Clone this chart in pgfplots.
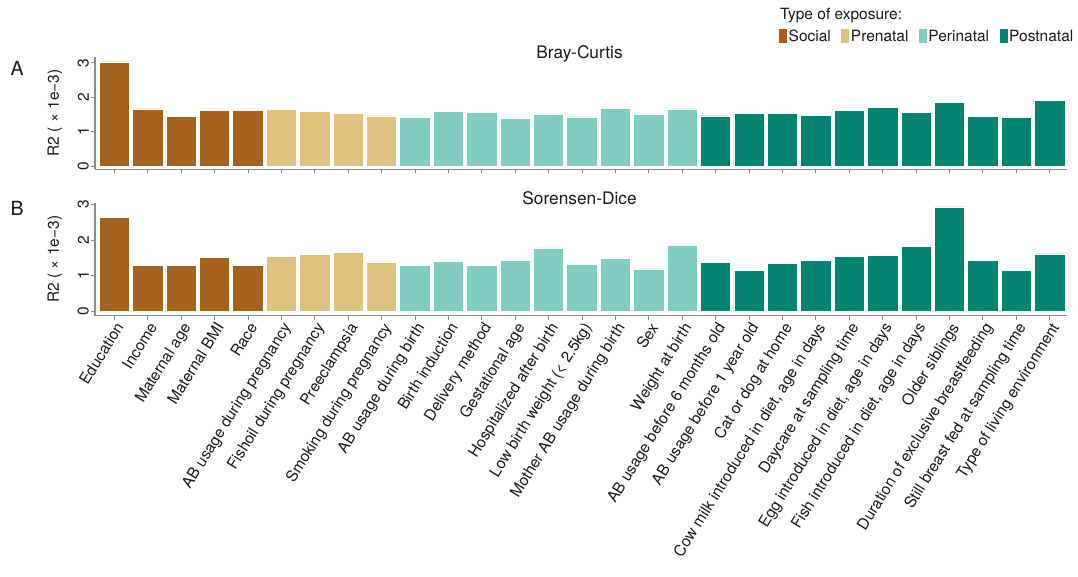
\documentclass[border=0pt]{standalone}
\usepackage{fontspec}
\setmainfont{TeX Gyre Heros}
\usepackage{pgfplots}
\pgfplotsset{compat=1.18}
\definecolor{social}{HTML}{A6611A}
\definecolor{prenatal}{HTML}{DFC27D}
\definecolor{perinatal}{HTML}{80CDC1}
\definecolor{postnatal}{HTML}{018571}
\definecolor{axgray}{HTML}{8C8C8C}
\definecolor{txt}{HTML}{1A1A1A}
\newcommand\lab{\fontsize{15.5}{18}\selectfont}
\newcommand\ttl{\fontsize{17.3}{20}\selectfont}
\pgfplotsset{
  panel/.style={
    scale only axis, width=972pt,
    xmin=-0.578, xmax=28.52,
    axis x line*=bottom, axis y line*=left,
    axis line style={axgray, line width=1.1pt},
    tick style={axgray, line width=0.8pt},
    tick align=outside, major tick length=4pt,
    xtick={0,...,28},
    ytick={0,1,2,3}, yticklabels={0,1,2,3},
    yticklabel style={rotate=90, anchor=south, inner sep=2pt, font=\lab, text=txt},
    ylabel={R2 ( × 1e−3)},
    ylabel style={at={(axis description cs:-0.0412,0.5)}, anchor=center, font=\lab, text=txt},
    clip=false,
  },
  bars/.style={ybar, bar width=30.4pt, bar shift=0pt, fill=#1, draw=white, line width=0.6pt},
}
\begin{document}
\begin{tikzpicture}[x=1pt,y=1pt]
\path[use as bounding box] (0,0) rectangle (1078,576);
% ---------- Top panel: Bray-Curtis ----------
\begin{axis}[panel, height=112.6pt, at={(95pt,406.7pt)}, anchor=south west,
  ymin=-0.096, ymax=3.18, xticklabels={},
  legend columns=4,
  legend style={draw=none, fill=none, font=\lab, text=txt,
    at={(0.7037,1.181)}, anchor=west, inner sep=0pt,
    nodes={inner sep=1.5pt},
    /tikz/every even column/.append style={column sep=9pt}},
  legend image code/.code={\fill[#1, draw=none] (0pt,-7pt) rectangle (8pt,7pt);},
]
\addplot[bars=social] coordinates {(0,3.03) (1,1.66) (2,1.44) (3,1.62) (4,1.62)};
\addplot[bars=prenatal] coordinates {(5,1.65) (6,1.58) (7,1.54) (8,1.46)};
\addplot[bars=perinatal] coordinates {(9,1.42) (10,1.58) (11,1.55) (12,1.40) (13,1.49) (14,1.43) (15,1.68) (16,1.51) (17,1.66)};
\addplot[bars=postnatal] coordinates {(18,1.46) (19,1.52) (20,1.52) (21,1.47) (22,1.61) (23,1.71) (24,1.56) (25,1.84) (26,1.44) (27,1.42) (28,1.92)};
\legend{Social, Prenatal, Perinatal, Postnatal}
\node[anchor=base, inner sep=0pt, font=\ttl, text=txt] at (axis description cs:0.4985,0.986) {Bray-Curtis};
\node[anchor=base west, inner sep=0pt, font=\lab, text=txt] at (axis description cs:0.7047,1.326) {Type of exposure:};
\node[anchor=center, inner sep=0pt, font=\fontsize{19.5}{22}\selectfont, text=txt] at (axis description cs:-0.080,0.90) {A};
\end{axis}
% ---------- Bottom panel: Sorensen-Dice ----------
\begin{axis}[panel, height=113pt, at={(95pt,260.3pt)}, anchor=south west,
  ymin=-0.124, ymax=3.05,
  xticklabels={Education, Income, Maternal age, Maternal BMI, Race,
    AB usage during pregnancy, Fishoil during pregnancy, Preeclampsia, Smoking during pregnancy,
    AB usage during birth, Birth induction, Delivery method, Gestational age, Hospitalized after birth,
    Low birth weight (< 2.5kg), Mother AB usage during birth, Sex, Weight at birth,
    AB usage before 6 months old, AB usage before 1 year old, Cat or dog at home,
    {Cow milk introduced in diet, age in days}, Daycare at sampling time,
    {Egg introduced in diet, age in days}, {Fish introduced in diet, age in days},
    Older siblings, Duration of exclusive breastfeeding, Still breast fed at sampling time,
    Type of living environment},
  xticklabel style={rotate=58, anchor=north east, inner sep=1pt, font=\lab, text=txt},
]
\addplot[bars=social] coordinates {(0,2.63) (1,1.29) (2,1.29) (3,1.51) (4,1.29)};
\addplot[bars=prenatal] coordinates {(5,1.54) (6,1.59) (7,1.66) (8,1.38)};
\addplot[bars=perinatal] coordinates {(9,1.28) (10,1.40) (11,1.28) (12,1.44) (13,1.78) (14,1.32) (15,1.48) (16,1.19) (17,1.86)};
\addplot[bars=postnatal] coordinates {(18,1.38) (19,1.15) (20,1.35) (21,1.44) (22,1.55) (23,1.57) (24,1.83) (25,2.93) (26,1.44) (27,1.14) (28,1.61)};
\node[anchor=base, inner sep=0pt, font=\ttl, text=txt] at (axis description cs:0.4985,0.98) {Sorensen-Dice};
\node[anchor=center, inner sep=0pt, font=\fontsize{19.5}{22}\selectfont, text=txt] at (axis description cs:-0.080,0.953) {B};
\end{axis}
\end{tikzpicture}
\end{document}
